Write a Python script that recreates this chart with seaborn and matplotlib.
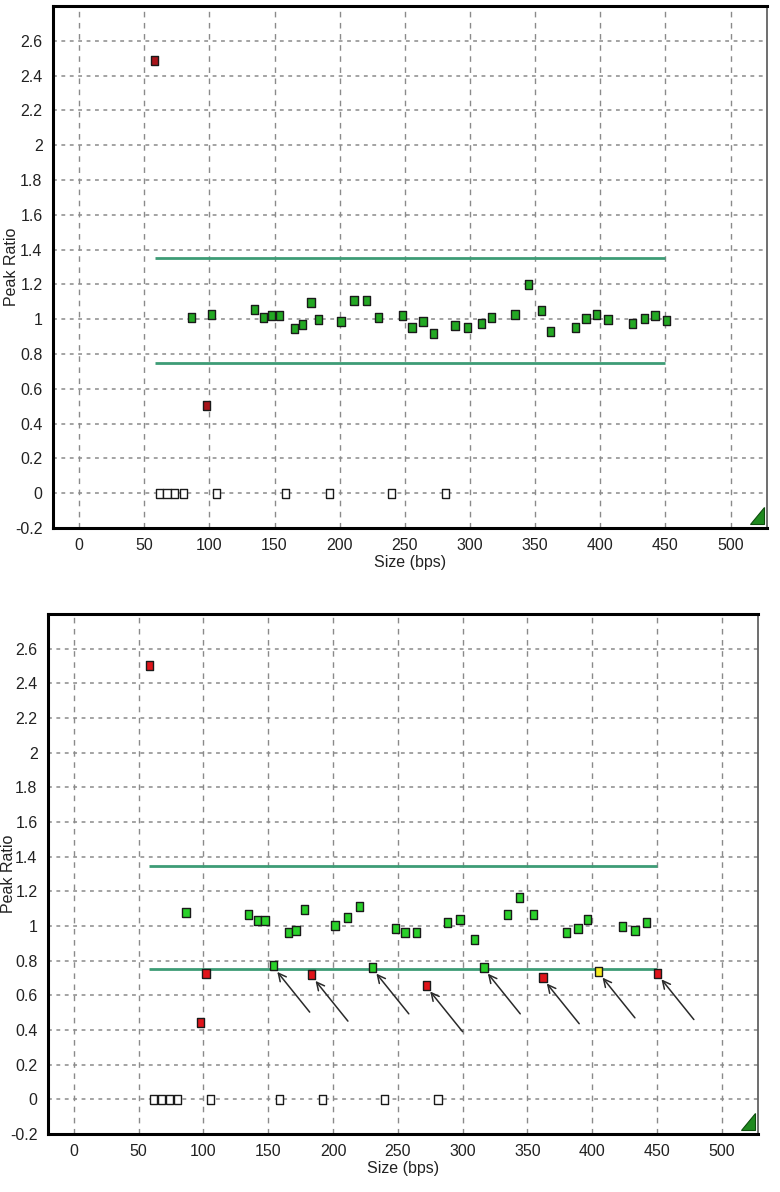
import numpy as np
import pandas as pd
import matplotlib
matplotlib.use('Agg')
import matplotlib.pyplot as plt
import seaborn as sns
from matplotlib.patches import Polygon
from matplotlib.ticker import MultipleLocator, FormatStrFormatter

# ---- data ----
zero_x = [61.5, 67.5, 73.5, 80, 105.5, 158.5, 192, 240, 281]

# top panel
top_green_x = [86, 101.5, 134.5, 141.5, 147.5, 154, 165.5, 171.5, 178, 184, 201, 211, 220.5, 230,
               248, 255.5, 264, 272, 288.5, 298, 309, 316.5, 334.5, 345, 355, 362, 381, 389, 397,
               406, 424.5, 434, 442, 451]
top_green_y = [1.01, 1.03, 1.055, 1.01, 1.02, 1.02, 0.945, 0.97, 1.095, 1.0, 0.99, 1.105, 1.105, 1.01,
               1.02, 0.955, 0.99, 0.92, 0.965, 0.955, 0.975, 1.01, 1.03, 1.2, 1.05, 0.93, 0.955, 1.005,
               1.03, 1.0, 0.975, 1.005, 1.02, 0.995]
top_red_x = [58, 98]
top_red_y = [2.49, 0.505]
top_limits = [0.75, 1.35]

# bottom panel
bot_green_x = [86.5, 134.5, 141.5, 147.5, 165.5, 171.5, 178, 201.5, 211, 220.5, 248, 255.5, 264.5,
               288.5, 298, 309, 334.5, 344, 355, 380, 389, 396.5, 423.5, 433, 442]
bot_green_y = [1.075, 1.065, 1.03, 1.03, 0.96, 0.975, 1.095, 1.005, 1.05, 1.11, 0.985, 0.96, 0.96,
               1.02, 1.04, 0.92, 1.065, 1.165, 1.065, 0.96, 0.985, 1.04, 0.995, 0.975, 1.02]
bot_red_x = [58.5, 98, 102]
bot_red_y = [2.5, 0.445, 0.725]
# points pointed at by arrows
flag_x = [154, 183.5, 230.5, 272, 316.5, 362, 405, 450.5]
flag_y = [0.77, 0.718, 0.76, 0.657, 0.76, 0.703, 0.737, 0.727]
flag_status = ['pass', 'fail', 'pass', 'fail', 'pass', 'fail', 'warn', 'fail']
bot_limits = [0.75, 1.345]
limit_span = [58, 450]

x_ticks = list(range(0, 501, 50))
y_ticks = [round(v, 1) for v in np.arange(-0.2, 2.61, 0.2)]

line_color = '#3d9c76'
rect_marker = [(-0.4, -0.5), (0.4, -0.5), (0.4, 0.5), (-0.4, 0.5), (-0.4, -0.5)]
tick_font = ['Liberation Sans Narrow', 'Liberation Sans', 'DejaVu Sans']


def make_df(gx, gy, rx, ry, fx=(), fy=(), fs=()):
    rows = []
    rows += [(x, y, 'pass') for x, y in zip(gx, gy)]
    rows += [(x, y, 'fail') for x, y in zip(rx, ry)]
    rows += [(x, y, s) for x, y, s in zip(fx, fy, fs)]
    rows += [(x, 0.0, 'none') for x in zero_x]
    return pd.DataFrame(rows, columns=['size', 'ratio', 'status'])


def draw_panel(ax, df, limits, palette, ylabel_x):
    ax.set_xlim(-20, 528)
    ax.set_ylim(-0.2, 2.8)
    ax.set_xticks(x_ticks)
    ax.set_yticks(y_ticks)
    ax.xaxis.set_minor_locator(MultipleLocator(10))
    ax.yaxis.set_major_formatter(FormatStrFormatter('%g'))
    ax.grid(True, axis='x', color='#8a8a8a', linestyle=(0, (4, 4)), linewidth=1)
    ax.grid(True, axis='y', color='#8a8a8a', linestyle=(0, (2.5, 3)), linewidth=1.1)
    ax.set_axisbelow(True)

    ax.hlines(limits, limit_span[0], limit_span[1], color=line_color, linewidth=2, zorder=2)

    sns.scatterplot(data=df, x='size', y='ratio', hue='status', palette=palette,
                    marker=rect_marker, s=42, edgecolor='#1a1a1a', linewidth=1,
                    legend=False, ax=ax, zorder=3)

    for side in ['left', 'bottom', 'top']:
        ax.spines[side].set_linewidth(2.2)
        ax.spines[side].set_color('black')
    ax.spines['right'].set_linewidth(1.2)
    ax.spines['right'].set_color('#555555')

    ax.tick_params(axis='both', which='major', direction='out', length=4, width=1, color='#555555')
    ax.tick_params(axis='x', which='minor', direction='out', length=2.5, width=1, color='#555555')
    for lab in ax.get_xticklabels() + ax.get_yticklabels():
        lab.set_family(tick_font)
        lab.set_fontsize(11.5)
        lab.set_color('#222222')

    ax.set_xlabel('Size (bps)', fontsize=11.5, family=tick_font, color='#222222', labelpad=1)
    ax.set_ylabel('Peak Ratio', fontsize=11.5, family=['Liberation Sans', 'DejaVu Sans'],
                  color='#222222')
    ax.yaxis.set_label_coords(ylabel_x, 0.5)

    # little green corner marker
    tri = Polygon([(0.976, 0.008), (0.996, 0.008), (0.996, 0.04)], closed=True,
                  transform=ax.transAxes, facecolor='#1f8a1f', edgecolor='#0d4d0d',
                  linewidth=0.8, zorder=4)
    ax.add_patch(tri)


sns.set_style('white')
fig = plt.figure(figsize=(7.8, 11.92), dpi=100)
ax_top = fig.add_axes([0.068, 0.557, 0.9154, 0.4379])
ax_bot = fig.add_axes([0.0615, 0.0487, 0.9103, 0.4362])

df_top = make_df(top_green_x, top_green_y, top_red_x, top_red_y)
draw_panel(ax_top, df_top, top_limits,
           {'pass': '#23a823', 'fail': '#a8141a', 'none': 'white', 'warn': '#f2e21b'}, -0.047)

df_bot = make_df(bot_green_x, bot_green_y, bot_red_x, bot_red_y, flag_x, flag_y, flag_status)
draw_panel(ax_bot, df_bot, bot_limits,
           {'pass': '#2ad12a', 'fail': '#e0141a', 'none': 'white', 'warn': '#f7ec1e'}, -0.045)

# arrows pointing at the flagged peaks
for fx, fy in zip(flag_x, flag_y):
    head = (fx + 3, fy - 0.035)
    tail = (head[0] + 25, head[1] - 0.232)
    ax_bot.annotate('', xy=head, xytext=tail,
                    arrowprops=dict(arrowstyle='->', color='#2a2a2a', lw=1.1,
                                    mutation_scale=14, shrinkA=0, shrinkB=0),
                    zorder=5)

fig.savefig('out.png', dpi=100)
